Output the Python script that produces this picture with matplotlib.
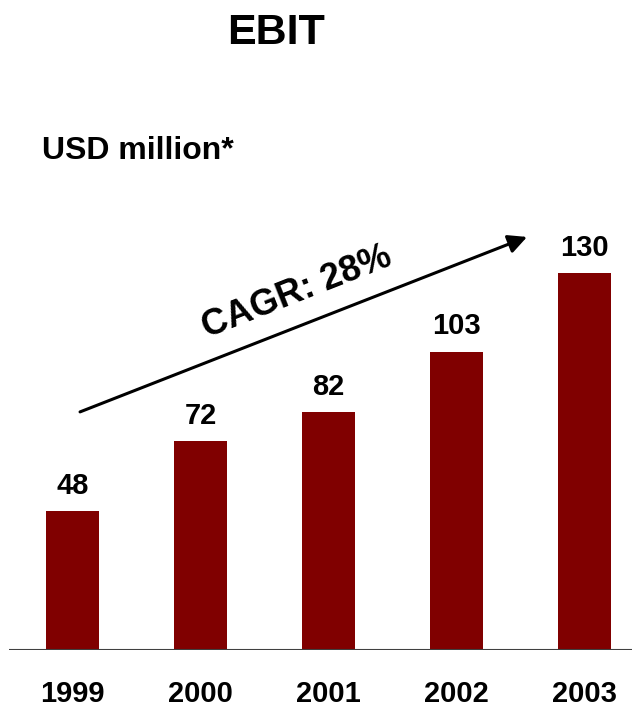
import matplotlib
matplotlib.use("Agg")
import matplotlib.pyplot as plt

years = ["1999", "2000", "2001", "2002", "2003"]
ebit = [48, 72, 82, 103, 130]
title = "EBIT"
unit_label = "USD million*"
cagr_label = "CAGR: 28%"

plt.rcParams['font.family'] = ['Liberation Sans', 'DejaVu Sans']
BAR = "#800000"

fig = plt.figure(figsize=(6.32, 7.09), dpi=100)
ax = fig.add_axes([9/632, 59/709, 1 - 9/632, 1 - 59/709])
x = list(range(len(years)))
ax.bar(x, ebit, width=0.414, color=BAR, zorder=2)
ax.set_xlim(-0.496, 4.371)
ax.set_ylim(0, 224.4)
for s in ax.spines.values():
    s.set_visible(False)
ax.axhline(0, color="#404040", lw=1.5, zorder=3)
ax.set_xticks([])
ax.set_yticks([])

for xi, v, yr in zip(x, ebit, years):
    ax.annotate(str(v), (xi, v), xytext=(0, 12.5), textcoords="offset points",
                ha="center", va="baseline", fontsize=21, fontweight="bold")
    ax.annotate(yr, (xi, 0), xytext=(0, -37.5), textcoords="offset points",
                ha="center", va="baseline", fontsize=21, fontweight="bold",
                annotation_clip=False)

ax.annotate("", xy=(3.551, 142.6), xytext=(0.059, 82.2),
            arrowprops=dict(arrowstyle="-|>", lw=2.2, color="black",
                            mutation_scale=28, shrinkA=0, shrinkB=0))
ax.text(1.754, 123.3, cagr_label, rotation=21.5, rotation_mode="anchor",
        ha="center", va="center", fontsize=26, fontweight="bold")

fig.text(276/632, 1 - 44/709, title, ha="center", va="baseline",
         fontsize=31, fontweight="bold")
fig.text(42/632, 1 - 159/709, unit_label, ha="left", va="baseline",
         fontsize=23, fontweight="bold")

fig.savefig("out.png", dpi=100)
